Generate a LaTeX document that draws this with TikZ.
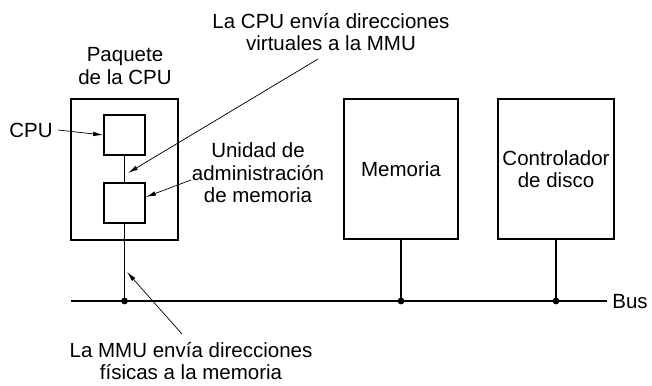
\documentclass[tikz,border=0pt]{standalone}
\usepackage{fontspec}
\setmainfont{Liberation Sans}
\usetikzlibrary{arrows.meta}

\begin{document}
\begin{tikzpicture}[x=1pt, y=-1pt, thick,
    font=\fontsize{20.5}{22.5}\selectfont,
    box/.style={draw, line width=1.7pt, inner sep=0pt},
    lbl/.style={align=center, inner sep=0pt},
    callout/.style={-{Latex[length=10pt, width=4.5pt]}, line width=0.7pt},
    wire/.style={line width=1.7pt}]
  \useasboundingbox (0,0) rectangle (652,385);

  \node[box, minimum width=107pt, minimum height=141pt] (pkg) at (124.5,169.5) {};
  \node[box, minimum width=41pt, minimum height=40pt] (cpu) at (124.5,135) {};
  \node[box, minimum width=41pt, minimum height=40pt] (mmu) at (124.5,203) {};
  \node[box, minimum width=114pt, minimum height=140pt] (mem) at (401,169) {};
  \node[box, minimum width=116pt, minimum height=140pt] (disk) at (556,169) {};

  \coordinate (busL) at (71,301);
  \coordinate (busR) at (607,301);
  \coordinate (jCpu) at (124.5,301);
  \coordinate (jMem) at (401,301);
  \coordinate (jDisk) at (556,301);

  \draw[wire] (busL) -- (busR);
  \draw[wire] (cpu.south) -- (mmu.north);
  \draw[wire] (mmu.south) -- (jCpu);
  \draw[wire] (mem.south) -- (jMem);
  \draw[wire] (disk.south) -- (jDisk);
  \foreach \j in {jCpu, jMem, jDisk}
    \fill (\j) circle (3.4pt);

  \node[lbl] (memTxt) at (mem.center) {Memoria};
  \node[lbl] (diskTxt) at (disk.center) {Controlador\\de disco};
  \node[lbl] (pkgTxt) at (125,66) {Paquete\\de la CPU};
  \node[lbl] (cpuTxt) at (31,130) {CPU};
  \node[lbl] (virtTxt) at (331,32) {La CPU envía direcciones\\virtuales a la MMU};
  \node[lbl] (mmuTxt) at (258,173) {Unidad de\\administración\\de memoria};
  \node[lbl] (physTxt) at (191,361) {La MMU envía direcciones\\físicas a la memoria};
  \node[lbl, anchor=west] (busTxt) at (612,302) {Bus};

  \coordinate (virtA) at (318,59);
  \coordinate (virtB) at (128,173);
  \coordinate (mmuA) at (191,180);
  \coordinate (physA) at (182,334);
  \coordinate (physB) at (127,272);

  \draw[callout] (58,130) -- (cpu.west);
  \draw[callout] (virtA) -- (virtB);
  \draw[callout] (mmuA) -- (mmu.east |- 0,197);
  \draw[callout] (physA) -- (physB);
\end{tikzpicture}
\end{document}
